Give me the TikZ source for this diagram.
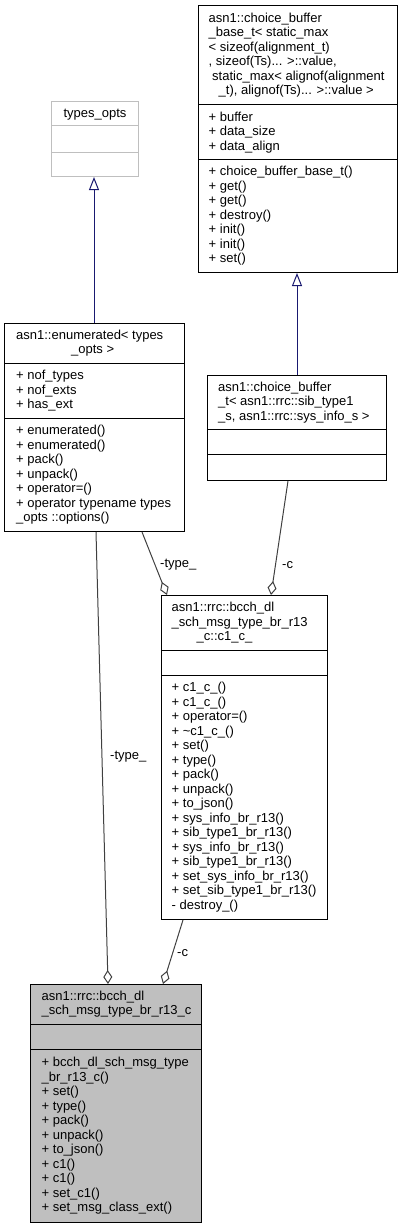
\documentclass[tikz,border=0pt]{standalone}
\usepackage{fontspec}
\setmainfont{Liberation Sans}
\usetikzlibrary{arrows.meta}

\definecolor{inhblue}{HTML}{191970}
\definecolor{aggrgrey}{HTML}{404040}
\definecolor{boxgrey}{HTML}{BFBFBF}
\newcommand{\umlfont}{\fontsize{13pt}{14.5pt}\selectfont}

\begin{document}
\begin{tikzpicture}[
                x=1pt, y=-1pt,
                font=\umlfont,
                % Style for the class boxes
                classbox/.style={
                    draw=black,
                    line width=1pt,
                    anchor=north west,
                    inner sep=0pt
                },
                sepline/.style={line width=1pt},
                % Text of one compartment, centred on it vertically
                members/.style={
                    anchor=west,
                    inner sep=0pt,
                    align=left,
                    yshift=-1pt,
                    execute at begin node=\strut,
                    execute at end node=\strut
                },
                edgelabel/.style={anchor=base west, inner sep=0pt},
                inherit/.style={draw=inhblue, line width=1pt,
                    -{Triangle[open, length=13pt, width=10pt, fill=white]}},
                aggr/.style={draw=aggrgrey, line width=1pt,
                    -{Diamond[open, length=14pt, width=9pt, fill=white]}}
            ]

                \useasboundingbox (0,0) rectangle (403,1228);

                % ========================================================
                % 1. choice_buffer_base_t (top right)
                % ========================================================
                \node[classbox, minimum width=199pt, minimum height=267pt] (base) at (198,5) {};
                \draw[sepline] (base.west |- 0,105) -- (base.east |- 0,105);
                \draw[sepline] (base.west |- 0,159) -- (base.east |- 0,159);

                \node[members] (base-title) at (208.5,55) {asn1::choice\_buffer\\
                    \_base\_t< static\_max\\
                    < sizeof(alignment\_t)\\
                    , sizeof(Ts)... >::value,\\
                    \hspace*{3.5pt}static\_max< alignof(alignment\\
                    \hspace*{10pt}\_t), alignof(Ts)... >::value >};
                \node[members] (base-attr) at (208.5,132) {+ buffer\\ + data\_size\\ + data\_align};
                \node[members] (base-ops) at (208.5,215.5) {+ choice\_buffer\_base\_t()\\ + get()\\ + get()\\
                    + destroy()\\ + init()\\ + init()\\ + set()};

                % ========================================================
                % 2. types_opts (top left, grey frame)
                % ========================================================
                \node[classbox, draw=boxgrey, minimum width=87pt, minimum height=75pt] (topts) at (51,101) {};
                \draw[sepline, boxgrey] (topts.west |- 0,126) -- (topts.east |- 0,126);
                \draw[sepline, boxgrey] (topts.west |- 0,152) -- (topts.east |- 0,152);
                \node[members, anchor=center] (topts-title) at (topts.center |- 0,113.5) {types\_opts};

                % ========================================================
                % 3. enumerated< types_opts >
                % ========================================================
                \node[classbox, minimum width=180pt, minimum height=208pt] (enum) at (4,323) {};
                \draw[sepline] (enum.west |- 0,363) -- (enum.east |- 0,363);
                \draw[sepline] (enum.west |- 0,418) -- (enum.east |- 0,418);

                \node[members] (enum-title) at (16,343) {asn1::enumerated< types\\ \hspace*{55pt}\_opts >};
                \node[members] (enum-attr) at (16,390.5) {+ nof\_types\\ + nof\_exts\\ + has\_ext};
                \node[members] (enum-ops) at (16,474.5) {+ enumerated()\\ + enumerated()\\ + pack()\\ + unpack()\\
                    + operator=()\\ + operator typename types\\ \_opts ::options()};

                % ========================================================
                % 4. choice_buffer_t< sib_type1_s, sys_info_s >
                % ========================================================
                \node[classbox, minimum width=179pt, minimum height=105pt] (cbuf) at (207,375) {};
                \draw[sepline] (cbuf.west |- 0,429) -- (cbuf.east |- 0,429);
                \draw[sepline] (cbuf.west |- 0,454) -- (cbuf.east |- 0,454);

                \node[members] (cbuf-title) at (218,402) {asn1::choice\_buffer\\
                    \_t< asn1::rrc::sib\_type1\\ \_s, asn1::rrc::sys\_info\_s >};

                % ========================================================
                % 5. bcch_dl_sch_msg_type_br_r13_c::c1_c_
                % ========================================================
                \node[classbox, minimum width=166pt, minimum height=324pt] (c1c) at (161,595) {};
                \draw[sepline] (c1c.west |- 0,650) -- (c1c.east |- 0,650);
                \draw[sepline] (c1c.west |- 0,675) -- (c1c.east |- 0,675);

                \node[members] (c1c-title) at (171.5,622.5) {asn1::rrc::bcch\_dl\\
                    \_sch\_msg\_type\_br\_r13\\ \hspace*{25pt}\_c::c1\_c\_};
                \node[members] (c1c-ops) at (171.5,797) {+ c1\_c\_()\\ + c1\_c\_()\\ + operator=()\\
                    + \textasciitilde c1\_c\_()\\ + set()\\ + type()\\ + pack()\\ + unpack()\\ + to\_json()\\
                    + sys\_info\_br\_r13()\\ + sib\_type1\_br\_r13()\\ + sys\_info\_br\_r13()\\
                    + sib\_type1\_br\_r13()\\ + set\_sys\_info\_br\_r13()\\ + set\_sib\_type1\_br\_r13()\\
                    - destroy\_()};

                % ========================================================
                % 6. bcch_dl_sch_msg_type_br_r13_c (bottom, grey fill)
                % ========================================================
                \node[classbox, fill=boxgrey, minimum width=171pt, minimum height=238pt] (bcch) at (30,984) {};
                \draw[sepline] (bcch.west |- 0,1024) -- (bcch.east |- 0,1024);
                \draw[sepline] (bcch.west |- 0,1049) -- (bcch.east |- 0,1049);

                \node[members] (bcch-title) at (41.5,1004) {asn1::rrc::bcch\_dl\\ \_sch\_msg\_type\_br\_r13\_c};
                \node[members] (bcch-ops) at (41.5,1135.5) {+ bcch\_dl\_sch\_msg\_type\\ \_br\_r13\_c()\\
                    + set()\\ + type()\\ + pack()\\ + unpack()\\ + to\_json()\\ + c1()\\ + c1()\\
                    + set\_c1()\\ + set\_msg\_class\_ext()};

                % ========================================================
                % 7. Inheritance
                % ========================================================
                \draw[inherit] (enum.north -| 94,0) -- (topts.south -| 94,0);
                \draw[inherit] (cbuf.north -| 297,0) -- (base.south -| 297,0);

                % ========================================================
                % 8. Members (aggregation) with their names
                % ========================================================
                \draw[aggr] (cbuf.south -| 288,0) -- (c1c.north -| 271,0);
                \node[edgelabel] (lab-c-top) at (282,568) {-c};

                \draw[aggr] (enum.south -| 142,0) -- (c1c.north -| 167,0);
                \node[edgelabel] (lab-type-top) at (160,567) {-type\_};

                \draw[aggr] (enum.south -| 96,0) -- (bcch.north -| 108,0);
                \node[edgelabel] (lab-type-low) at (110,759) {-type\_};

                \draw[aggr] (c1c.south -| 183,0) -- (bcch.north -| 163,0);
                \node[edgelabel] (lab-c-low) at (177,956) {-c};

            \end{tikzpicture}
\end{document}
